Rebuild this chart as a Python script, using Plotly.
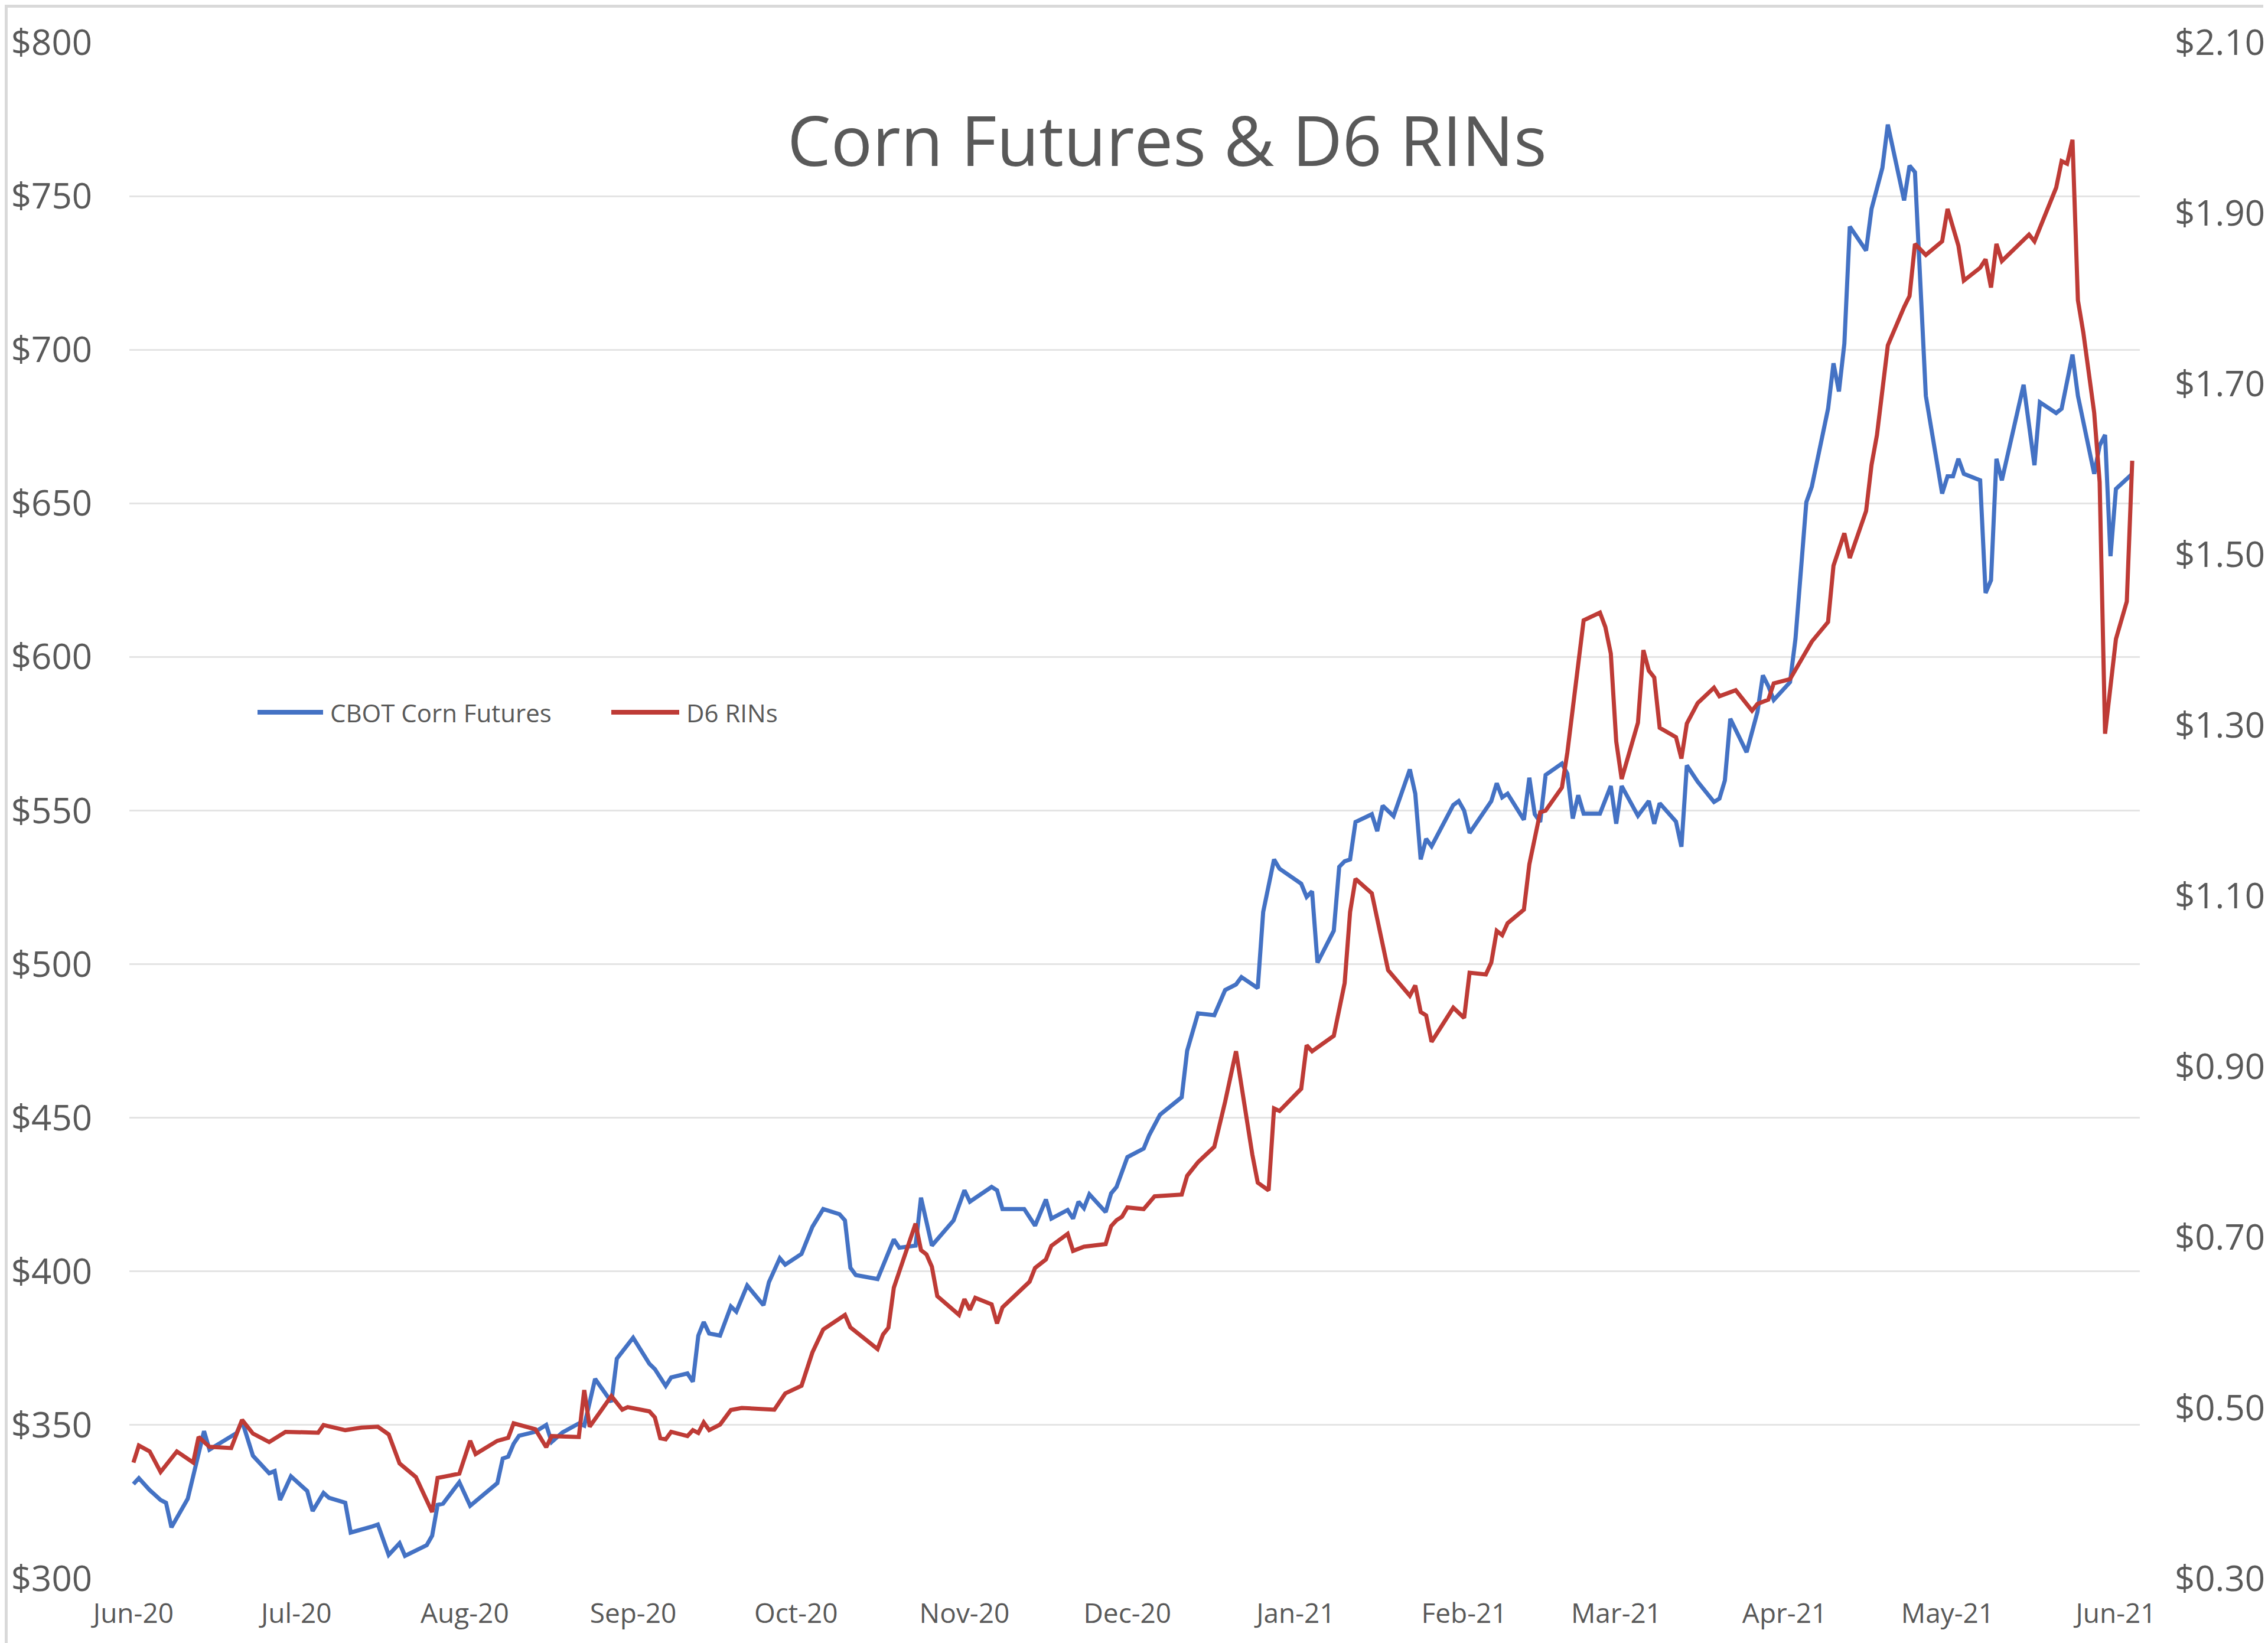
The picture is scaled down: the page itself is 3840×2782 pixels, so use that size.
import pandas as pd
import plotly.graph_objects as go

# ---------------- data ----------------
START = "2020-06-01"   # day 0

corn_days = [0, 1, 3, 5, 6, 7, 10, 13, 14, 19, 20, 22, 25, 26, 27, 29, 32, 33, 35, 36,
             39, 40, 44, 45, 47, 49, 50, 54, 55, 56, 57, 60, 62, 67, 68, 69, 70, 71, 74, 76,
             77, 79, 82, 83, 85, 88, 89, 92, 95, 96, 98, 99, 102, 103, 104, 105, 106, 108, 110, 111,
             113, 116, 117, 119, 120, 123, 125, 127, 130, 131, 132, 133, 137, 140, 141, 144, 145, 147, 151, 153,
             154, 158, 159, 160, 164, 166, 168, 169, 172, 173, 174, 175, 176, 179, 180, 181, 183, 186, 187, 189,
             193, 194, 196, 199, 201, 203, 204, 207, 208, 210, 211, 215, 216, 217, 218, 221, 222, 223, 224, 225,
             228, 229, 230, 232, 235, 236, 237, 238, 239, 243, 244, 245, 246, 250, 251, 252, 253, 256, 257, 258,
             259, 260, 263, 264, 265, 266, 267, 270, 272, 273, 274, 277, 279, 280, 281, 284, 285, 286, 288, 291,
             292, 293, 294, 297, 299, 300, 301, 302, 305, 306, 308, 309, 312, 313, 314, 315, 316, 319, 320, 322,
             323, 326, 327, 328, 330, 333, 334, 335, 336, 337, 340, 341, 342, 343, 344, 348, 350, 351, 354, 355,
             357, 358, 361, 362, 363, 364, 365, 368]
corn_values = [330.8, 332.7, 328.8, 325.6, 324.7, 316.7, 326.0, 348.0, 342.0, 347.4, 351.3, 340.0, 334.3, 335.0, 325.6, 333.3, 328.5, 322.0, 327.9, 326.3,
               324.7, 315.0, 317.0, 317.6, 307.7, 311.5, 307.4, 310.9, 314.0, 324.0, 324.4, 331.4, 323.7, 331.1, 339.1, 339.7, 343.9, 346.5, 347.8, 350.0,
               344.5, 347.6, 350.5, 349.8, 365.0, 357.5, 371.6, 378.4, 369.9, 368.2, 362.7, 365.5, 366.8, 364.1, 379.1, 383.5, 379.8, 379.1, 388.6, 386.9,
               395.4, 389.0, 396.5, 404.3, 402.2, 405.7, 414.5, 420.3, 418.6, 416.6, 401.2, 398.8, 397.5, 410.4, 407.7, 408.4, 424.0, 408.4, 416.6, 426.4,
               422.7, 427.5, 426.4, 420.3, 420.3, 414.9, 423.4, 417.2, 420.0, 417.2, 422.7, 420.6, 425.1, 419.3, 425.4, 427.5, 437.2, 440.0, 444.3, 451.0,
               456.7, 471.8, 484.0, 483.4, 491.6, 493.4, 495.8, 492.2, 517.0, 534.1, 531.1, 526.2, 521.9, 523.7, 500.5, 510.9, 531.7, 533.5, 534.1, 546.3,
               548.8, 543.3, 551.6, 548.2, 563.4, 555.5, 534.1, 540.8, 538.4, 551.8, 553.1, 550.0, 542.7, 553.1, 558.9, 554.3, 555.5, 547.0, 560.7, 548.8,
               546.3, 561.6, 565.3, 562.0, 547.4, 555.0, 549.0, 549.0, 558.0, 545.7, 558.0, 548.3, 553.1, 545.7, 552.4, 546.4, 538.2, 564.7, 559.4, 552.8,
               553.9, 559.8, 579.9, 569.0, 582.1, 594.0, 590.5, 586.0, 591.8, 605.9, 650.4, 655.4, 680.8, 695.6, 686.4, 702.0, 740.1, 732.3, 745.8, 759.2,
               773.3, 748.6, 759.9, 757.8, 685.0, 653.2, 658.8, 658.8, 664.5, 659.6, 657.5, 620.8, 625.0, 664.5, 657.5, 688.6, 662.4, 682.9, 679.4, 680.8,
               698.4, 685.0, 659.6, 668.8, 672.3, 632.8, 654.7, 659.6]

rin_days = [0, 1, 3, 5, 8, 11, 12, 14, 18, 20, 22, 25, 28, 34, 35, 39, 42, 45, 47, 49,
            52, 55, 56, 60, 62, 63, 67, 69, 70, 74, 76, 77, 82, 83, 84, 88, 90, 91, 95, 96,
            97, 98, 99, 102, 103, 104, 105, 106, 108, 110, 112, 116, 118, 120, 123, 125, 127, 131, 132, 137,
            138, 139, 140, 144, 145, 146, 147, 148, 150, 152, 153, 154, 155, 158, 159, 160, 165, 166, 168, 169,
            172, 173, 175, 179, 180, 181, 182, 183, 186, 188, 193, 194, 196, 199, 201, 203, 206, 207, 209, 210,
            211, 215, 216, 217, 221, 222, 223, 224, 225, 228, 230, 231, 235, 236, 237, 238, 239, 243, 245, 246,
            249, 250, 251, 252, 253, 256, 257, 259, 260, 263, 264, 266, 267, 270, 271, 272, 273, 274, 276, 277,
            278, 279, 280, 281, 284, 285, 286, 288, 291, 292, 295, 298, 299, 301, 302, 305, 307, 309, 312, 313,
            315, 316, 319, 320, 321, 323, 326, 327, 328, 330, 333, 334, 336, 337, 340, 341, 342, 343, 344, 347,
            349, 350, 354, 355, 356, 357, 358, 359, 361, 362, 363, 365, 367, 368]
rin_values = [0.436, 0.456, 0.449, 0.425, 0.449, 0.436, 0.466, 0.4545, 0.453, 0.486, 0.470, 0.460, 0.472, 0.471, 0.480, 0.474, 0.477, 0.478, 0.469, 0.435,
              0.419, 0.378, 0.418, 0.423, 0.4615, 0.446, 0.4615, 0.465, 0.482, 0.475, 0.454, 0.467, 0.466, 0.521, 0.478, 0.514, 0.498, 0.501, 0.496, 0.489,
              0.4645, 0.4633, 0.472, 0.467, 0.474, 0.4707, 0.483, 0.474, 0.4805, 0.4976, 0.500, 0.498, 0.498, 0.517, 0.526, 0.565, 0.592, 0.609, 0.5944, 0.569,
              0.586, 0.594, 0.641, 0.716, 0.685, 0.680, 0.6655, 0.631, 0.620, 0.609, 0.6275, 0.615, 0.629, 0.6214, 0.599, 0.6178, 0.648, 0.664, 0.674, 0.690,
              0.704, 0.684, 0.689, 0.692, 0.713, 0.720, 0.724, 0.735, 0.733, 0.748, 0.750, 0.772, 0.788, 0.806, 0.859, 0.918, 0.797, 0.764, 0.755, 0.851,
              0.848, 0.874, 0.925, 0.918, 0.936, 0.969, 0.998, 1.081, 1.120, 1.103, 1.039, 1.013, 0.983, 0.995, 0.964, 0.960, 0.929, 0.969, 0.957, 1.010,
              1.008, 1.022, 1.059, 1.054, 1.068, 1.084, 1.137, 1.198, 1.200, 1.227, 1.268, 1.378, 1.423, 1.432, 1.415, 1.384, 1.281, 1.237, 1.283, 1.303,
              1.388, 1.364, 1.356, 1.297, 1.286, 1.261, 1.302, 1.326, 1.344, 1.334, 1.341, 1.317, 1.325, 1.330, 1.349, 1.354, 1.376, 1.398, 1.421, 1.487,
              1.525, 1.496, 1.551, 1.605, 1.640, 1.745, 1.790, 1.803, 1.864, 1.851, 1.867, 1.905, 1.862, 1.821, 1.836, 1.846, 1.813, 1.864, 1.844, 1.862,
              1.875, 1.867, 1.930, 1.961, 1.958, 1.986, 1.798, 1.760, 1.666, 1.585, 1.290, 1.401, 1.445, 1.610]

month_ticks = ["2020-06-01", "2020-07-01", "2020-08-01", "2020-09-01", "2020-10-01", "2020-11-01", "2020-12-01",
               "2021-01-01", "2021-02-01", "2021-03-01", "2021-04-01", "2021-05-01", "2021-06-01"]
month_labels = ["Jun-20", "Jul-20", "Aug-20", "Sep-20", "Oct-20", "Nov-20", "Dec-20",
                "Jan-21", "Feb-21", "Mar-21", "Apr-21", "May-21", "Jun-21"]
left_ticks = [300, 350, 400, 450, 500, 550, 600, 650, 700, 750, 800]
left_labels = ["$300", "$350", "$400", "$450", "$500", "$550", "$600", "$650", "$700", "$750", "$800"]
right_ticks = [0.30, 0.50, 0.70, 0.90, 1.10, 1.30, 1.50, 1.70, 1.90, 2.10]
right_labels = ["$0.30", "$0.50", "$0.70", "$0.90", "$1.10", "$1.30", "$1.50", "$1.70", "$1.90", "$2.10"]

TITLE = "Corn Futures & D6 RINs"
NAME_CORN = "CBOT Corn Futures"
NAME_RIN = "D6 RINs"

# ---------------- styling ----------------
W, H = 3840, 2782
ML, MR, MT, MB = 211, 225, 64, 117
PW, PH = W - ML - MR, H - MT - MB
BLUE = "#4472C4"
RED = "#BE3B36"
TXT = "#595959"
FONT = "Open Sans"

start = pd.Timestamp(START)
corn_x = start + pd.to_timedelta(corn_days, unit="D")
rin_x = start + pd.to_timedelta(rin_days, unit="D")

fig = go.Figure()
fig.add_trace(go.Scatter(x=corn_x, y=corn_values, mode="lines", name=NAME_CORN,
                         line=dict(color=BLUE, width=7), yaxis="y"))
fig.add_trace(go.Scatter(x=rin_x, y=rin_values, mode="lines", name=NAME_RIN,
                         line=dict(color=RED, width=7), yaxis="y2"))


def px_x(p):   # figure pixel -> paper x
    return (p - ML) / PW


def px_y(p):   # figure pixel (from top) -> paper y
    return (H - MB - p) / PH


x_range = [start - pd.Timedelta(hours=18), start + pd.Timedelta(days=369.4)]

fig.update_layout(
    width=W, height=H, autosize=False,
    margin=dict(l=ML, r=MR, t=MT, b=MB, autoexpand=False),
    paper_bgcolor="white", plot_bgcolor="white",
    showlegend=False,
    font=dict(family=FONT, color=TXT),
    xaxis=dict(type="date", range=x_range, tickvals=month_ticks, ticktext=month_labels,
               showgrid=False, zeroline=False, showline=False, ticks="", automargin=False,
               tickfont=dict(size=46, color=TXT, family=FONT), ticklabelstandoff=28),
    yaxis=dict(range=[300, 800], tickvals=left_ticks, ticktext=left_labels, automargin=False,
               showgrid=True, gridcolor="#E4E4E4", gridwidth=3, zeroline=False, showline=False,
               ticks="", tickfont=dict(size=60, color=TXT, family=FONT), ticklabelstandoff=62),
    yaxis2=dict(range=[0.3, 2.1], tickvals=right_ticks, ticktext=right_labels, automargin=False,
                overlaying="y", side="right", showgrid=False, zeroline=False, showline=False,
                ticks="", tickfont=dict(size=60, color=TXT, family=FONT), ticklabelstandoff=58),
)

# title
fig.add_annotation(text=TITLE, xref="paper", yref="paper", x=px_x(1968), y=px_y(228),
                   xanchor="center", yanchor="middle", showarrow=False,
                   font=dict(size=117, color=TXT, family=FONT))

# legend (drawn manually to match the long line samples)
LEG_Y = 1198
for (x0, x1, col, tx, label) in [(428, 539, BLUE, 549, NAME_CORN), (1027, 1142, RED, 1152, NAME_RIN)]:
    fig.add_shape(type="line", xref="paper", yref="paper",
                  x0=px_x(x0), x1=px_x(x1), y0=px_y(LEG_Y), y1=px_y(LEG_Y),
                  line=dict(color=col, width=8))
    fig.add_annotation(text=label, xref="paper", yref="paper", x=px_x(tx), y=px_y(LEG_Y),
                       xanchor="left", yanchor="middle", showarrow=False,
                       font=dict(size=42, color=TXT, family=FONT))

# chart-area border
fig.add_shape(type="rect", xref="paper", yref="paper", layer="above",
              x0=px_x(2.5), x1=px_x(W - 2.5), y0=px_y(H - 2.5), y1=px_y(2.5),
              line=dict(color="#D9D9D9", width=5), fillcolor="rgba(0,0,0,0)")

fig.write_html("out.html")
